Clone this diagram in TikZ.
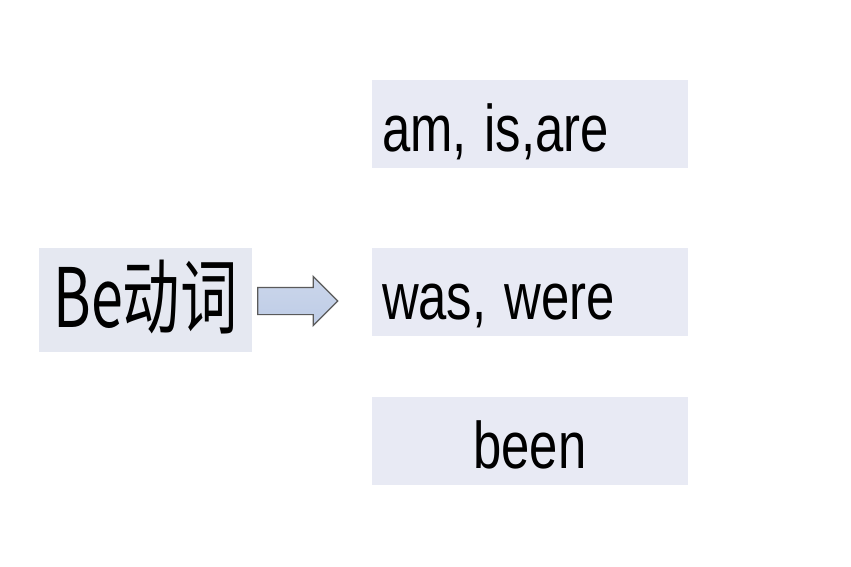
\documentclass[tikz,border=0pt]{standalone}
\usepackage{fontspec}
\setmainfont[FakeStretch=0.77]{Liberation Sans}
\newfontfamily\cjk[FakeStretch=0.7]{Noto Sans CJK SC}
\usetikzlibrary{shapes.arrows}
\definecolor{boxfill}{HTML}{E8EAF4}
\definecolor{befill}{HTML}{E5E8F1}
\definecolor{arrowfill}{HTML}{BECCE6}
\definecolor{arrowline}{HTML}{5A5A5A}

\begin{document}
\begin{tikzpicture}[x=0.5pt,y=-0.5pt]
   \tikzstyle{every node}=[inner xsep=0pt, inner ysep=0pt]
   \tikzstyle{wordbox}=[fill=boxfill, text width=148pt, inner xsep=5pt, text height=35.5pt, text depth=8.5pt, font=\fontsize{33}{40}\selectfont]
   \tikzstyle{bebox}=[fill=befill, minimum width=106.5pt, text height=39.5pt, text depth=12.5pt, font=\cjk\fontsize{41}{48}\selectfont]
   \tikzstyle{blockarrow}=[single arrow, draw=arrowline, line width=0.6pt, top color=arrowfill!80!white, bottom color=arrowfill, inner ysep=6.5pt, minimum height=40pt, single arrow head extend=5.5pt, single arrow head indent=0pt]

   \useasboundingbox (0,0) rectangle (851,567);
   \fill[white] (0,0) rectangle (851,567);

\node[bebox] (be) at (145.5,300) {Be动词\hspace{5pt}};
\node[blockarrow] (arrow) at (291,301) {};

\node[wordbox, align=left] (present) at (530,124) {am,\hspace{-2pt} is,are};
\node[wordbox, align=left] (past) at (530,292) {was,\hspace{-2pt} were};
\node[wordbox, align=center] (participle) at (530,441) {been};

\end{tikzpicture}
\end{document}
